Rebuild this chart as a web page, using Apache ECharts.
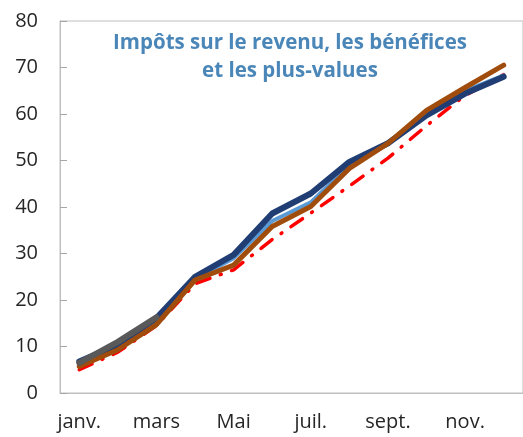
<!DOCTYPE html>
<html>
<head>
<meta charset="utf-8">
<script src="https://cdn.jsdelivr.net/npm/echarts@6/dist/echarts.min.js"></script>
<style>
  html, body { margin: 0; padding: 0; background: #fff; }
  #chart { width: 523px; height: 437px; }
</style>
</head>
<body>
<div id="chart"></div>
<script>
// mois (labels affichés un sur deux)
var months = ['janv.', 'févr.', 'mars', 'avr.', 'Mai', 'juin', 'juil.', 'août', 'sept.', 'oct.', 'nov.', 'déc.'];

// séries cumulées
var serieRouge = [5.0, 8.8, 14.5, 23.5, 26.5, 33.0, 38.7, 44.5, 50.5, 57.5, 64.0, 68.5];
var serieBleuClair = [6.5, 10.0, 15.5, 24.5, 29.0, 37.0, 41.0, 49.0, 53.5, 60.0, 65.0, 68.3];
var serieBleuFonce = [6.8, 10.4, 16.1, 25.0, 29.7, 38.6, 42.9, 49.7, 53.7, 59.7, 64.4, 68.0];
var serieMarron = [5.7, 9.3, 14.7, 24.3, 27.5, 35.8, 40.1, 48.3, 53.7, 60.8, 65.7, 70.5];
var serieGris = [6.5, 11.0, 16.3];

var yTicks = { min: 0, max: 80, interval: 10 };

var chart = echarts.init(document.getElementById('chart'));

function lineSerie(name, data, color, width, z, type) {
    return {
        name: name,
        type: 'line',
        data: data,
        symbol: 'none',
        z: z,
        smooth: false,
        lineStyle: { color: color, width: width, type: type || 'solid', cap: 'round', join: 'round' }
    };
}

var option = {
    animation: false,
    title: {
        text: 'Impôts sur le revenu, les bénéfices\net les plus-values',
        left: 285,
        top: 24,
        textAlign: 'center',
        textStyle: {
            color: '#4a86b8',
            fontFamily: 'Open Sans',
            fontWeight: 'bold',
            fontSize: 20.5,
            lineHeight: 28
        }
    },
    grid: {
        left: 60,
        top: 21,
        width: 464,
        height: 372,
        show: true,
        borderColor: '#bfbfbf',
        borderWidth: 1
    },
    xAxis: {
        type: 'category',
        data: months,
        boundaryGap: true,
        axisLine: { lineStyle: { color: '#bfbfbf', width: 1 } },
        axisTick: { inside: true, length: 7, lineStyle: { color: '#a6a6a6' } },
        axisLabel: {
            interval: 1,
            color: '#262626',
            fontFamily: 'Open Sans',
            fontSize: 20,
            margin: 19
        }
    },
    yAxis: {
        type: 'value',
        min: yTicks.min,
        max: yTicks.max,
        interval: yTicks.interval,
        splitLine: { show: false },
        axisLine: { show: true, lineStyle: { color: '#bfbfbf', width: 1 } },
        axisTick: { show: true, inside: true, length: 7, lineStyle: { color: '#a6a6a6' } },
        axisLabel: {
            color: '#262626',
            fontFamily: 'Open Sans',
            fontSize: 20,
            margin: 22
        }
    },
    series: [
        lineSerie('rouge', serieRouge, '#ff0000', 3.5, 1, [14, 11, 1, 11]),
        lineSerie('bleu clair', serieBleuClair, '#5b9bd5', 4, 2),
        lineSerie('bleu foncé', serieBleuFonce, '#203d74', 6, 3),
        lineSerie('marron', serieMarron, '#a04c0c', 5, 4),
        lineSerie('gris', serieGris, '#595959', 6, 5)
    ]
};

chart.setOption(option);
</script>
</body>
</html>
